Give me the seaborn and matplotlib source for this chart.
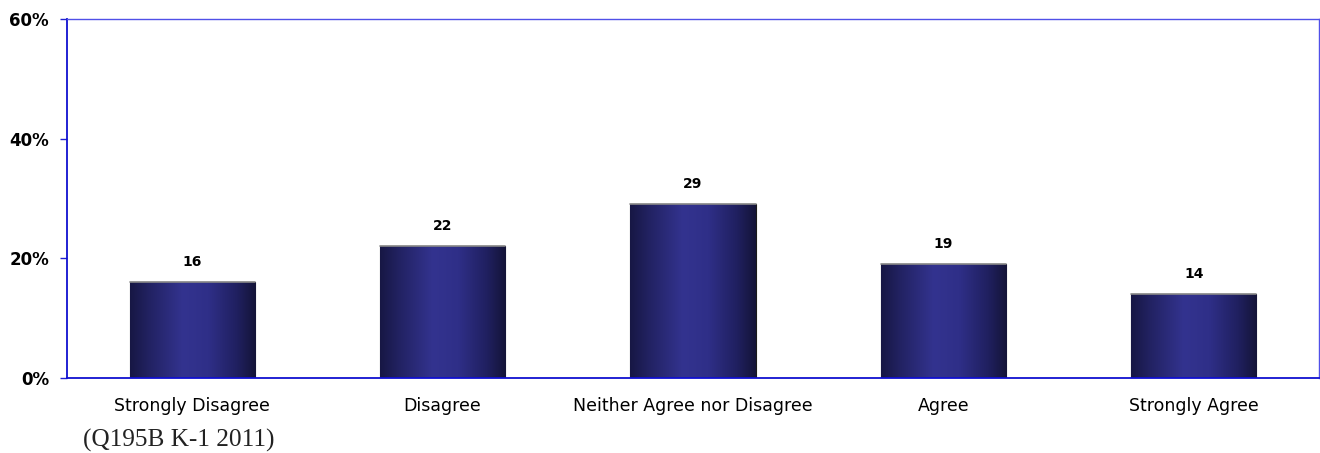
import numpy as np
import pandas as pd
import matplotlib
matplotlib.use('Agg')
import matplotlib.pyplot as plt
from matplotlib.colors import LinearSegmentedColormap
from matplotlib.ticker import FuncFormatter
import seaborn as sns

# --- data ---
categories = ['Strongly Disagree', 'Disagree', 'Neither Agree nor Disagree', 'Agree', 'Strongly Agree']
values = [16, 22, 29, 19, 14]
footnote = '(Q195B K-1 2011)'

sns.set_style('white')
plt.rcParams['font.family'] = ['DejaVu Sans']

df = pd.DataFrame({'answer': categories, 'pct': values})

fig = plt.figure(figsize=(13.2, 4.53), dpi=100)
ax = fig.add_axes([67 / 1320, 1 - 378 / 453, 1252 / 1320, 359 / 453])

sns.barplot(data=df, x='answer', y='pct', color='#2b2b80', width=0.5,
            edgecolor='#1a1a1a', linewidth=0.8, ax=ax, zorder=2)

# cylinder-like horizontal gradient on each bar
grad_cmap = LinearSegmentedColormap.from_list(
    'bar_grad', [(0.0, '#171744'), (0.15, '#222262'), (0.42, '#33338f'),
                 (0.62, '#2f2f88'), (0.85, '#202060'), (1.0, '#141438')])
gradient = np.linspace(0, 1, 256).reshape(1, -1)
for patch in ax.patches:
    x0, y0 = patch.get_x(), patch.get_y()
    w, h = patch.get_width(), patch.get_height()
    im = ax.imshow(gradient, cmap=grad_cmap, aspect='auto',
                   extent=[x0, x0 + w, y0, y0 + h], zorder=2.5)
    im.set_clip_path(patch)
    ax.plot([x0, x0 + w], [y0 + h, y0 + h], color='#888888', lw=1.2, zorder=3)
    ax.text(x0 + w / 2, y0 + h + 2.2, f'{h:.0f}', ha='center', va='bottom',
            fontsize=10, fontweight='bold', color='black', zorder=4)

ax.set_xlim(-0.5, len(categories) - 0.5)
ax.set_ylim(0, 60)
ax.set_yticks([0, 20, 40, 60])
ax.yaxis.set_major_formatter(FuncFormatter(lambda v, p: f'{v:.0f}%'))
ax.set_xlabel('')
ax.set_ylabel('')

for lbl in ax.get_yticklabels():
    lbl.set_fontweight('bold')
    lbl.set_fontsize(12)
    lbl.set_color('black')
for lbl in ax.get_xticklabels():
    lbl.set_fontsize(12.5)
    lbl.set_color('black')

ax.tick_params(axis='y', left=True, length=5, width=1, color='#2020d0', pad=8)
ax.tick_params(axis='x', bottom=False, pad=10)

for side in ['left', 'bottom']:
    ax.spines[side].set_color('#1010d0')
    ax.spines[side].set_linewidth(1.3)
for side in ['top', 'right']:
    ax.spines[side].set_color('#5050e8')
    ax.spines[side].set_linewidth(1.0)
ax.spines['bottom'].set_zorder(5)

fig.text(83 / 1320, 1 - 440 / 453, footnote, ha='left', va='center',
         fontsize=18.2, family=['Liberation Serif', 'DejaVu Serif'], color='#222222')

fig.savefig('out.png', dpi=100, facecolor='white')
